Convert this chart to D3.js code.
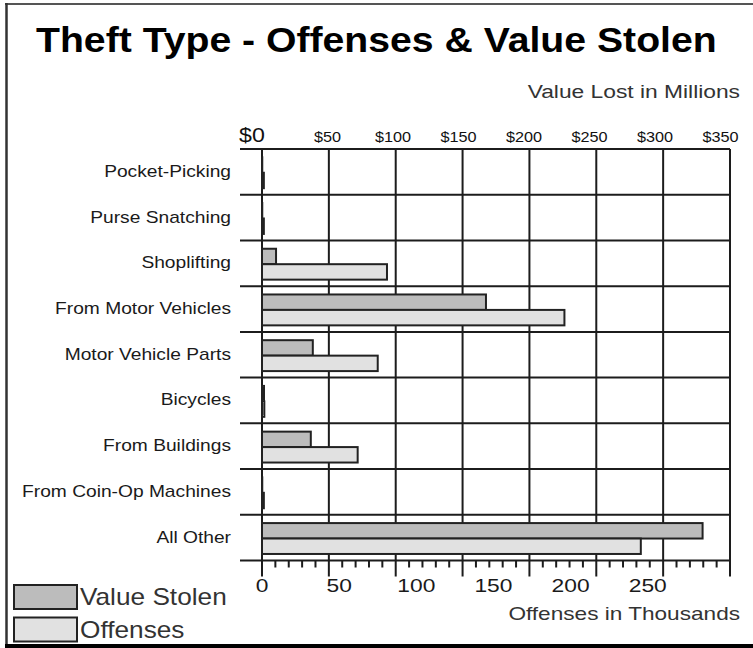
<!DOCTYPE html>
<html>
<head>
<meta charset="utf-8">
<title>Theft Type - Offenses & Value Stolen</title>
<script src="https://cdn.jsdelivr.net/npm/d3@7"></script>
<style>
  body { margin: 0; background: #fff; }
  svg { display: block; }
  text { font-family: "Liberation Sans", Arial, sans-serif; fill: #1a1a1a; }
  .title { font-size: 35px; font-weight: bold; fill: #000; }
  .cat { font-size: 16px; }
  .vtick { font-size: 14px; fill: #111; }
  .otick { font-size: 19px; }
  .axtitle { font-size: 19px; fill: #333; }
  .legend { font-size: 23px; fill: #333; }
  .grid { stroke: #1c1c1c; stroke-width: 2px; }
</style>
</head>
<body>
<svg id="main" width="753" height="648"></svg>
<script>
// theft categories, top to bottom
var categories = ["Pocket-Picking", "Purse Snatching", "Shoplifting", "From Motor Vehicles",
  "Motor Vehicle Parts", "Bicycles", "From Buildings", "From Coin-Op Machines", "All Other"];
// value stolen, $ millions (top axis)
var valueStolen = [0.2, 0.2, 10.5, 167.5, 38, 1.5, 36.5, 0.2, 329.5];
// offenses, thousands (bottom axis)
var offenses = [1.2, 1.2, 81, 196, 75, 1.5, 62, 1.2, 245.5];
var valueTicks = [0, 50, 100, 150, 200, 250, 300, 350];
var valueTickLabels = ["$0", "$50", "$100", "$150", "$200", "$250", "$300", "$350"];
var offenseTicks = [0, 50, 100, 150, 200, 250];
var series = ["Value Stolen", "Offenses"];
var seriesColors = ["#bcbcbc", "#e1e1e1"];

var svg = d3.select("#main");
var plotLeft = 262, plotRight = 730, plotTop = 149, plotBottom = 560.5;

// the source lettering is wide, so texts get stretched sideways
function place(sel, fx, fy, s) {
  sel.attr("transform", function(d, i) {
    return "translate(" + fx(d, i) + "," + fy(d, i) + ") scale(" + s + ",1)";
  });
}
function k(v) { return function() { return v; }; }

// value scale drives the grid, offenses have their own (the original chart
// labels the bottom axis on a slightly different span)
var xValue = d3.scaleLinear().domain([0, 350]).range([plotLeft, plotRight]);
var xValueLabel = d3.scaleLinear().domain([0, 350]).range([plotLeft, 720.5]);
var xOff = d3.scaleLinear().domain([0, 303.3]).range([plotLeft, plotRight]);
var y = d3.scaleBand().domain(categories).range([plotTop, plotBottom]);
var ySub = d3.scaleBand().domain(series).range([0, y.bandwidth()])
  .paddingOuter(0.48).align(0.56);

// FRAME
svg.append("line").attr("x1", 5).attr("x2", 753).attr("y1", 4).attr("y2", 4)
  .attr("stroke", "#555").attr("stroke-width", 2);
svg.append("line").attr("x1", 6.5).attr("x2", 6.5).attr("y1", 3).attr("y2", 645)
  .attr("stroke", "#333").attr("stroke-width", 2.5);
svg.append("rect").attr("x", 5).attr("y", 644).attr("width", 748).attr("height", 4)
  .attr("fill", "#000");

// TITLES
place(svg.append("text").attr("class", "title")
  .text("Theft Type - Offenses & Value Stolen"), k(36), k(52), 1.12);
place(svg.append("text").attr("class", "axtitle").attr("text-anchor", "end")
  .text("Value Lost in Millions"), k(740), k(97.5), 1.2);
place(svg.append("text").attr("class", "axtitle").attr("text-anchor", "end")
  .text("Offenses in Thousands"), k(740), k(620), 1.19);

// GRID
svg.selectAll("line.hgrid")
  .data(categories.map(function(c) { return y(c); }).concat([plotBottom]))
  .enter().append("line")
  .attr("class", "grid hgrid")
  .attr("x1", 240).attr("x2", plotRight)
  .attr("y1", function(d) { return d; }).attr("y2", function(d) { return d; });

svg.selectAll("line.vgrid")
  .data(valueTicks)
  .enter().append("line")
  .attr("class", "grid vgrid")
  .attr("x1", function(d) { return xValue(d); }).attr("x2", function(d) { return xValue(d); })
  .attr("y1", plotTop).attr("y2", plotBottom + 16);

// minor ticks under the bottom axis, every $10M
svg.selectAll("line.minor")
  .data(d3.range(0, 351, 10).filter(function(d) { return d % 50 != 0; }))
  .enter().append("line")
  .attr("class", "grid minor")
  .attr("x1", function(d) { return xValue(d); }).attr("x2", function(d) { return xValue(d); })
  .attr("y1", plotBottom).attr("y2", plotBottom + 7);

// TICK LABELS
var vt = svg.selectAll("text.vtick")
  .data(valueTicks)
  .enter().append("text")
  .attr("class", "vtick")
  .attr("text-anchor", "middle")
  .style("font-size", function(d, i) { return i == 0 ? "20px" : null; })
  .text(function(d, i) { return valueTickLabels[i]; });
place(vt, function(d, i) { return xValueLabel(d) - (i == 0 ? 10 : 0); }, k(142), 1.16);

var ot = svg.selectAll("text.otick")
  .data(offenseTicks)
  .enter().append("text")
  .attr("class", "otick")
  .attr("text-anchor", "middle")
  .text(function(d) { return d; });
place(ot, function(d) { return xOff(d); }, k(592), 1.2);

// CATEGORY LABELS
var cl = svg.selectAll("text.cat")
  .data(categories)
  .enter().append("text")
  .attr("class", "cat")
  .attr("text-anchor", "end")
  .text(function(d) { return d; });
place(cl, k(231), function(d) { return y(d) + y.bandwidth() / 2 + 5; }, 1.2);

// BARS
svg.selectAll("rect.value")
  .data(categories)
  .enter().append("rect")
  .attr("class", "value")
  .attr("x", plotLeft)
  .attr("y", function(d) { return y(d) + ySub("Value Stolen"); })
  .attr("width", function(d, i) { return xValue(valueStolen[i]) - plotLeft; })
  .attr("height", ySub.bandwidth())
  .attr("fill", seriesColors[0])
  .attr("stroke", "#222").attr("stroke-width", 2);

svg.selectAll("rect.off")
  .data(categories)
  .enter().append("rect")
  .attr("class", "off")
  .attr("x", plotLeft)
  .attr("y", function(d) { return y(d) + ySub("Offenses"); })
  .attr("width", function(d, i) { return xOff(offenses[i]) - plotLeft; })
  .attr("height", ySub.bandwidth())
  .attr("fill", seriesColors[1])
  .attr("stroke", "#222").attr("stroke-width", 2);

// LEGEND
var legend = svg.selectAll("g.legend")
  .data(series)
  .enter().append("g")
  .attr("transform", function(d, i) { return "translate(14," + (585 + i * 32.5) + ")"; });
legend.append("rect")
  .attr("width", 63).attr("height", 24)
  .attr("fill", function(d, i) { return seriesColors[i]; })
  .attr("stroke", "#222").attr("stroke-width", 2);
place(legend.append("text")
  .attr("class", "legend")
  .text(function(d) { return d; }), k(66), k(20), 1.14);
</script>
</body>
</html>
